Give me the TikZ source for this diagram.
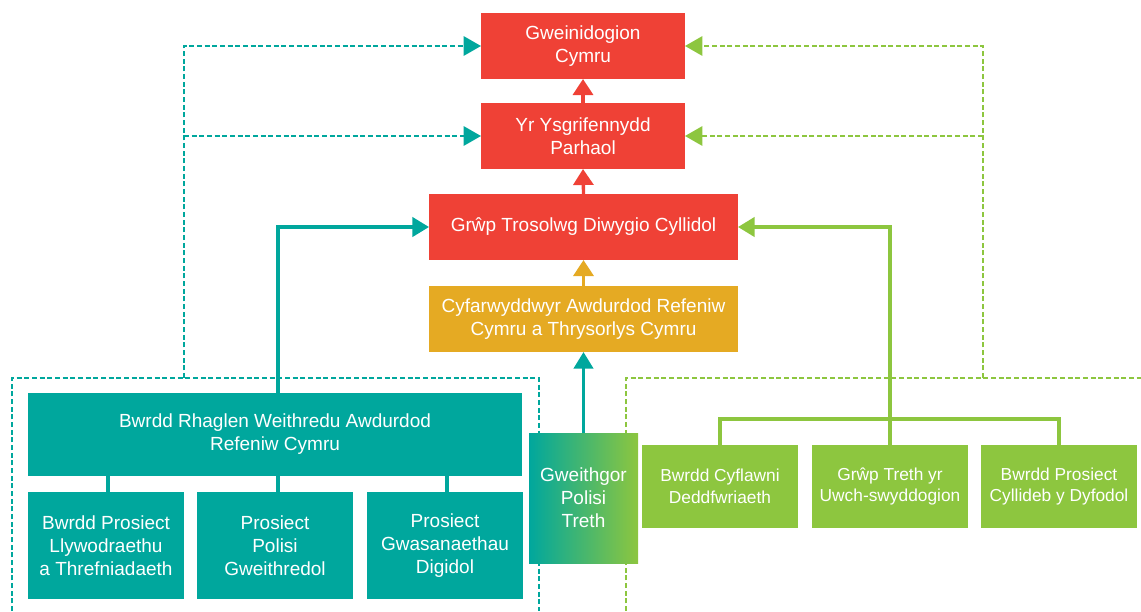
\documentclass[tikz,border=0pt]{standalone}
\usepackage{fontspec}
\setmainfont{Liberation Sans}
\usetikzlibrary{arrows.meta}
\definecolor{cred}{RGB}{239,65,54}
\definecolor{cteal}{RGB}{0,167,157}
\definecolor{cyel}{RGB}{229,170,35}
\definecolor{cgreen}{RGB}{141,198,63}
% \bx{name}{x1}{y1}{x2}{y2}{style}{text}
\newcommand\bx[7]{\node[#6, minimum width={(#4-#2)*0.75pt}, minimum height={(#5-#3)*0.75pt}] (#1) at ({(#2+#4)/2},{(#3+#5)/2}) {#7};}
\begin{document}
\begin{tikzpicture}[x=0.75pt,y=-0.75pt,
  boxbase/.style={inner sep=0pt, outer sep=0pt, text=white, align=center,
    font=\fontsize{14.25}{17.25}\selectfont},
  redbox/.style={boxbase, fill=cred},
  yelbox/.style={boxbase, fill=cyel},
  tealbox/.style={boxbase, fill=cteal},
  greenbox/.style={boxbase, fill=cgreen, font=\fontsize{13}{16.3}\selectfont},
  gradbox/.style={boxbase, left color=cteal, right color=cgreen},
  solidline/.style={line width=2.5pt},
  dashline/.style={line width=1.5pt, dash pattern=on 3.75pt off 2pt},
  tipS/.style={-{Triangle[width=14.5pt,length=12.5pt]}},
  tipD/.style={-{Triangle[width=14.5pt,length=13pt]}},
  tipR/.style={-{Triangle[width=15pt,length=12pt]}}
]
\useasboundingbox (0,0) rectangle (1141,611);

% top boxes
\bx{gw}{481}{13}{685}{79}{redbox}{Gweinidogion\\Cymru}
\bx{yr}{481}{103}{685}{169}{redbox}{Yr Ysgrifennydd\\Parhaol}
\bx{gr}{429}{194}{738}{260}{redbox}{Grŵp Trosolwg Diwygio Cyllidol}
\bx{cf}{429}{286}{738}{352}{yelbox}{Cyfarwyddwyr Awdurdod Refeniw\\Cymru a Thrysorlys Cymru}

% dashed frames and feedback lines
\coordinate (tdA) at (184,378);
\coordinate (tdL) at (12,611);
\coordinate (tdL2) at (12,378);
\coordinate (tdR) at (539,378);
\coordinate (tdR2) at (539,611);
\coordinate (gdA) at (983,378);
\coordinate (gdL) at (626,611);
\coordinate (gdL2) at (626,378);
\coordinate (gdR) at (1141,378);

\draw[dashline, cteal] (tdL) -- (tdL2) -- (tdR) -- (tdR2);
\draw[dashline, cteal, tipD] (tdA) |- (gw.west);
\draw[dashline, cteal, tipD] (tdA |- yr.west) -- (yr.west);
\draw[dashline, cgreen] (gdL) -- (gdL2) -- (gdR);
\draw[dashline, cgreen, tipD] (gdA) |- (gw.east);
\draw[dashline, cgreen, tipD] (gdA |- yr.east) -- (yr.east);

% bottom boxes
\bx{brw}{28}{393}{522}{476}{tealbox}{Bwrdd Rhaglen Weithredu Awdurdod\\Refeniw Cymru}
\bx{sa}{28}{492}{184}{599}{tealbox}{Bwrdd Prosiect\\Llywodraethu\\a Threfniadaeth}
\bx{sb}{197}{492}{353}{599}{tealbox}{Prosiect\\Polisi\\Gweithredol}
\bx{sc}{367}{492}{523}{599}{tealbox}{Prosiect\\Gwasanaethau\\Digidol}
\bx{gp}{529}{433}{638}{563}{gradbox}{Gweithgor\\Polisi\\Treth}
\bx{ga}{642}{445}{798}{528}{greenbox}{Bwrdd Cyflawni\\Deddfwriaeth}
\bx{gb}{812}{445}{968}{528}{greenbox}{Grŵp Treth yr\\Uwch-swyddogion}
\bx{gc}{981}{445}{1137}{528}{greenbox}{Bwrdd Prosiect\\Cyllideb y Dyfodol}

% red / yellow chain
\draw[solidline, cred, tipR] (yr.north) -- (gw.south);
\draw[solidline, cred, tipR] (gr.north) -- (yr.south);
\draw[solidline, cyel, tipR] (cf.north) -- (gr.south);
\draw[solidline, cteal, tipS] (gp.north) -- (cf.south);

% teal tree
\draw[solidline, cteal, tipS] ([xshift=2.25pt]brw.north) |- (gr.west);
\draw[solidline, cteal] ([xshift=1.5pt]sa.north) -- ++(0,-16);
\draw[solidline, cteal] ([xshift=2.25pt]sb.north) -- ++(0,-16);
\draw[solidline, cteal] ([xshift=1.5pt]sc.north) -- ++(0,-16);

% green tree
\draw[solidline, cgreen] (ga.north) -- ++(0,-26) -| (gc.north);
\draw[solidline, cgreen, tipS] (gb.north) |- (gr.east);
\end{tikzpicture}
\end{document}
